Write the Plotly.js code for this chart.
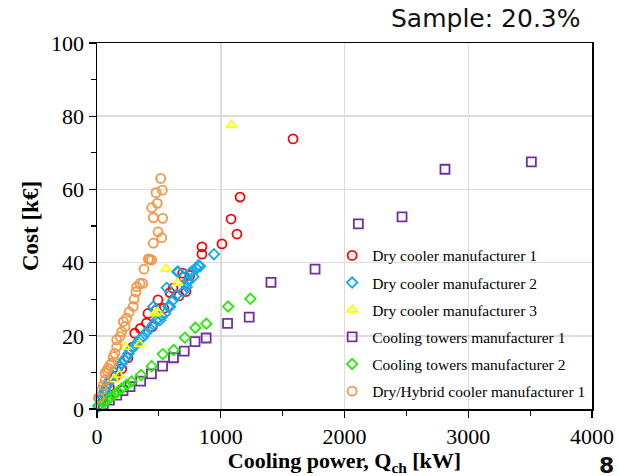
<!DOCTYPE html>
<html>
<head>
<meta charset="utf-8">
<script src="https://cdn.plot.ly/plotly-3.0.1.min.js"></script>
<style>html,body{margin:0;padding:0;background:#fff;}#chart{width:619px;height:476px;}</style>
</head>
<body>
<div id="chart"></div>
<script>
// Dry cooler manufacturer 1
const dc1X = [15, 30, 60, 100, 150, 200, 250, 290, 305, 350, 400, 412, 447, 480, 493, 540, 590, 614, 663, 692, 700, 719, 750, 848, 848, 1010, 1083, 1131, 1156, 1584];
const dc1Y = [3, 2.5, 4, 6, 9, 11, 14, 17, 20.7, 22, 23.5, 26.1, 22.5, 27, 29.8, 27.5, 31.8, 33, 30.9, 37.1, 36, 32.1, 36.5, 42.3, 44.3, 45.1, 51.9, 47.8, 57.9, 73.8];
// Dry cooler manufacturer 2
const dc2X = [10, 24, 40, 51, 65, 78, 90, 105, 130, 159, 180, 199, 220, 240, 255, 267, 295, 321, 345, 374, 400, 428, 455, 455, 470, 482, 509, 520, 550, 576, 590, 617, 640, 563, 698, 725, 730, 738, 751, 779, 765, 805, 819, 832, 649, 657, 945];
const dc2Y = [0.8, 2.5, 3.5, 4.3, 5.2, 6.1, 7, 7.9, 9, 10.7, 11.5, 12.5, 13.5, 14.3, 15.2, 16.1, 17, 17.9, 19, 19.8, 21, 22, 23, 28, 27, 24.3, 24.3, 25.5, 26.1, 28, 28, 29.8, 31, 33.1, 32.1, 33.4, 34.5, 35.2, 37.1, 36.1, 37.5, 38.4, 39.3, 39, 37.5, 37.5, 42.3];
// Dry cooler manufacturer 3
const dc3X = [137, 180, 226, 345, 469, 490, 558, 652, 1088];
const dc3Y = [8.1, 9.3, 17, 17.7, 26.1, 26.5, 38.3, 34.5, 77.6];
// Cooling towers manufacturer 1
const ct1X = [50, 100, 160, 210, 267, 353, 440, 530, 618, 705, 792, 882, 1055, 1230, 1406, 1762, 2112, 2465, 2812, 3510];
const ct1Y = [1.2, 2.4, 3.8, 5, 6.1, 7.6, 9.6, 11.7, 14, 15.8, 18.4, 19.4, 23.4, 25.1, 34.6, 38.2, 50.6, 52.5, 65.5, 67.5];
// Cooling towers manufacturer 2
const ct2X = [20, 50, 80, 110, 140, 170, 200, 240, 280, 356, 442, 531, 620, 710, 795, 884, 1059, 1239];
const ct2Y = [0.8, 1.6, 2.4, 3.2, 4, 4.8, 5.6, 6.6, 7.5, 9.3, 11.7, 15, 16.1, 19.5, 22.2, 23.3, 28, 30.1];
// Dry/Hybrid cooler manufacturer 1
const dh1X = [20, 38, 50, 65, 65, 80, 91, 105, 118, 132, 145, 159, 159, 186, 199, 226, 213, 240, 260, 293, 300, 315, 321, 347, 369, 380, 415, 428, 442, 455, 523, 493, 455, 531, 442, 487, 477, 528, 515];
const dh1Y = [3, 5.2, 6.5, 7.9, 9.8, 10.5, 11.1, 12, 12.5, 14.3, 15.2, 17, 18.9, 19.8, 21.1, 22.5, 23.9, 24.8, 26.5, 28, 30, 32, 33.4, 34.3, 34.3, 38.2, 41, 40.9, 40.7, 45.3, 46.8, 48.4, 52.3, 52.1, 55, 56.2, 59.1, 59.8, 63];

const seriesNames = ["Dry cooler manufacturer 1", "Dry cooler manufacturer 2", "Dry cooler manufacturer 3",
  "Cooling towers manufacturer 1", "Cooling towers manufacturer 2", "Dry/Hybrid cooler manufacturer 1"];
const xTickVals = [0, 1000, 2000, 3000, 4000];
const yTickVals = [0, 20, 40, 60, 80, 100];

const xs = [dc1X, dc2X, dc3X, ct1X, ct2X, dh1X];
const ys = [dc1Y, dc2Y, dc3Y, ct1Y, ct2Y, dh1Y];
const colors = ["#ff0000", "#12a8ec", "#ffff00", "#7030a0", "#22ee00", "#f79646"];
const symbols = ["circle-open", "diamond-open", "triangle-up-open", "square-open", "diamond-open", "circle-open"];
const sizes = [9, 8, 9, 9, 8, 9];

const traces = seriesNames.map((n, i) => ({
  type: "scatter", mode: "markers", name: n, x: xs[i], y: ys[i],
  legendgroup: "g" + i,
  marker: {symbol: symbols[i], size: sizes[i], color: colors[i], line: {width: 1.8, color: colors[i]}},
  cliponaxis: false
}));

const serif = "Liberation Serif, Times New Roman, serif";
const axisFont = {family: serif, size: 22, color: "#000"};
const layout = {
  width: 619, height: 476,
  margin: {l: 97, r: 27, t: 43, b: 67},
  paper_bgcolor: "#fff", plot_bgcolor: "#fff",
  showlegend: true,
  legend: {x: 0.475, y: 0.465, xanchor: "left", yanchor: "top", bgcolor: "rgba(0,0,0,0)",
    font: {family: serif, size: 15.5, color: "#000"},
    tracegroupgap: 4, itemwidth: 30},
  xaxis: {
    range: [0, 4000], tickvals: xTickVals, ticktext: xTickVals.map(String),
    ticks: "outside", ticklen: 7, tickwidth: 1.2, tickcolor: "#000",
    minor: {dtick: 500, ticks: "outside", ticklen: 5, tickcolor: "#000", showgrid: false},
    showgrid: true, gridcolor: "#dcdcdc", gridwidth: 1.5,
    showline: true, linecolor: "#000", linewidth: 1.5, mirror: true,
    zeroline: false, tickfont: axisFont,
    title: {text: "<b>Cooling power, Q<sub>ch</sub> [kW]</b>", font: {family: serif, size: 22, color: "#000"}, standoff: 2}
  },
  yaxis: {
    range: [0, 100], tickvals: yTickVals, ticktext: yTickVals.map(String),
    ticks: "outside", ticklen: 7, tickwidth: 1.2, tickcolor: "#000",
    minor: {dtick: 10, ticks: "outside", ticklen: 5, tickcolor: "#000", showgrid: false},
    showgrid: true, gridcolor: "#dcdcdc", gridwidth: 1.5,
    showline: true, linecolor: "#000", linewidth: 1.5, mirror: true,
    zeroline: false, tickfont: axisFont,
    title: {text: "<b>Cost [k€]</b>", font: {family: serif, size: 23, color: "#000"}, standoff: 6}
  },
  annotations: [
    {text: "Sample: 20.3%", xref: "paper", yref: "paper", x: 0.982, y: 1.068, xanchor: "right", yanchor: "middle",
     showarrow: false, font: {family: "DejaVu Sans, Verdana, sans-serif", size: 25, color: "#111"}},
    {text: "<b>8</b>", xref: "paper", yref: "paper", x: 1.01, y: -0.155, xanchor: "left", yanchor: "middle",
     showarrow: false, font: {family: "DejaVu Sans, Verdana, sans-serif", size: 22, color: "#111"}}
  ]
};
Plotly.newPlot("chart", traces, layout, {displayModeBar: false, staticPlot: true});
</script>
</body>
</html>
